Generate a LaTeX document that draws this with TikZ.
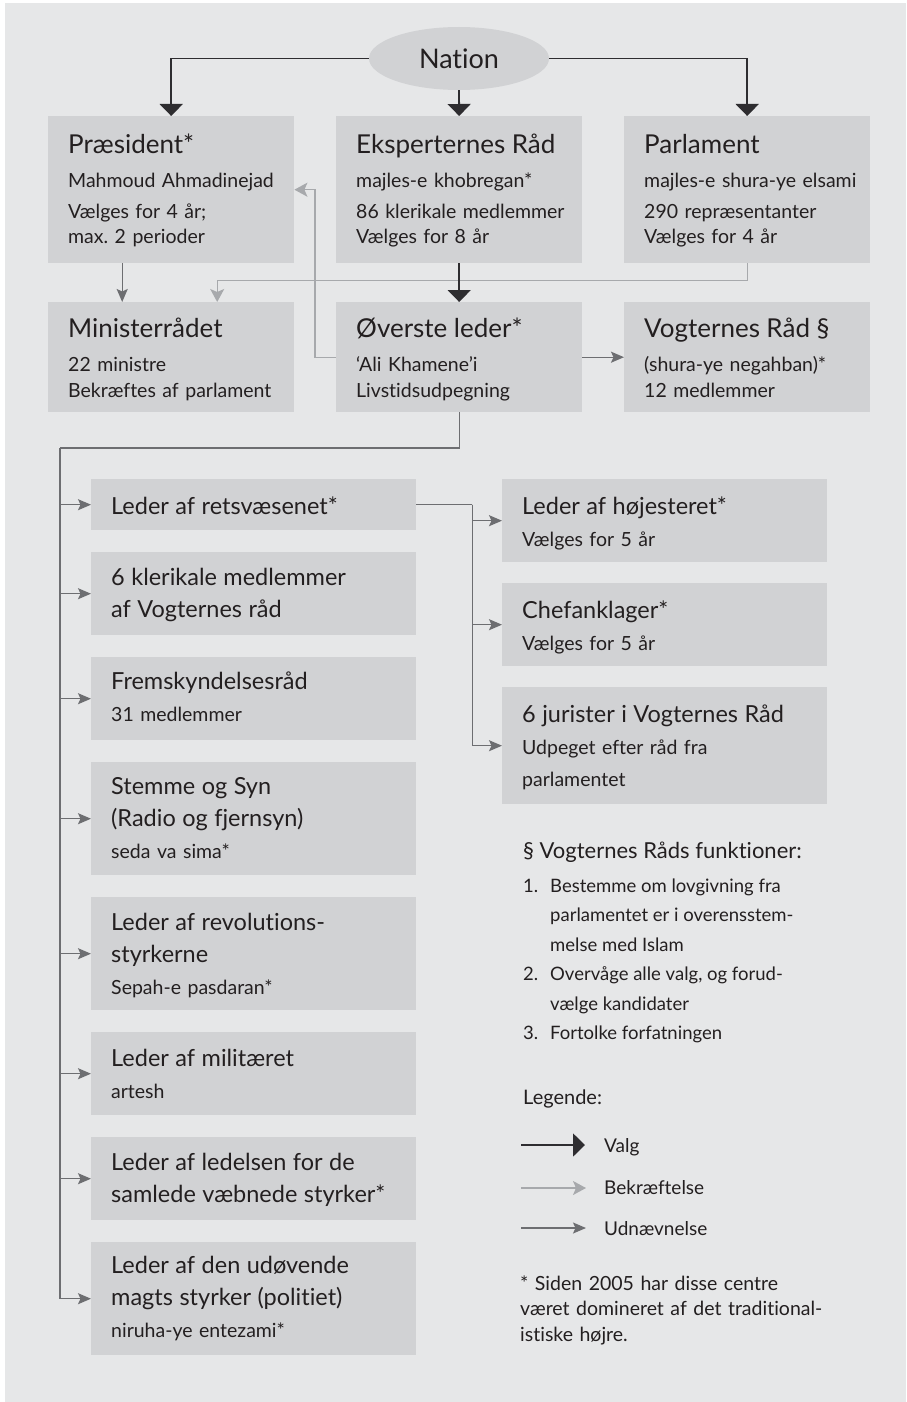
\documentclass[tikz,border=0pt]{standalone}
\usepackage{fontspec}
\setmainfont{Lato}[Ligatures=NoCommon]
\usetikzlibrary{arrows.meta,shapes.geometric}
\definecolor{bggray}{HTML}{E6E7E8}
\definecolor{boxgray}{HTML}{D1D2D4}
\definecolor{ink}{HTML}{231F20}
\definecolor{darkline}{HTML}{2E2D30}
\definecolor{midline}{HTML}{6D6E71}
\definecolor{lightline}{HTML}{A7A9AC}
\tikzset{orgbox/.style={fill=boxgray,anchor=north west,inner sep=0pt,align=left,text=ink,font=\fontsize{19.5}{32}\selectfont},
  elect/.style={draw=darkline,line width=1.8pt,-{Triangle[width=23pt,length=12pt]}},
  confirm/.style={draw=lightline,line width=1.4pt,-{Stealth[width=14pt,length=13pt,inset=3pt]}},
  appoint/.style={draw=midline,line width=1.4pt,-{Stealth[width=11pt,length=13pt,inset=2.5pt]}},
  trunk/.style={draw=midline,line width=1.4pt},
  note/.style={anchor=base west,inner sep=0pt,text=ink}}
\newcommand{\ttl}{\fontsize{26}{25}\selectfont}
\newcommand{\sttl}{\fontsize{23.5}{32}\selectfont}
\newcommand{\placebox}[6]{\node[orgbox,text width=#3pt,text height=#4pt,text depth=#5pt] (#1) at (#2) {\leftskip=20pt #6\par};}

\begin{document}
\begin{tikzpicture}[x=1pt,y=-1pt]
\useasboundingbox (0,0) rectangle (906,1402);
\fill[white] (0,0) rectangle (906,1402);
\fill[bggray] (5,3) rectangle (906,1402);

\node[ellipse,fill=boxgray,minimum width=180pt,minimum height=63pt,inner sep=0pt,text=ink,font=\fontsize{27}{30}\selectfont] (nation) at (459,58.5) {Nation};

\placebox{pres}{48,116}{246}{37}{110}{\fontsize{19.5}{25}\selectfont{\ttl Præsident*}\\[9pt]Mahmoud Ahmadinejad\\[6pt]Vælges for 4 år;\\max.\ 2 perioder}
\placebox{exp}{336,116}{246}{37}{110}{\fontsize{19.5}{25}\selectfont{\ttl Eksperternes Råd}\\[9pt]majles-e khobregan*\\[6pt]86 klerikale medlemmer\\Vælges for 8 år}
\placebox{parl}{624,116}{246}{37}{110}{\fontsize{19.5}{25}\selectfont{\ttl Parlament}\\[9pt]majles-e shura-ye elsami\\[6pt]290 repræsentanter\\Vælges for 4 år}
\placebox{mini}{48,302}{246}{35}{75}{\fontsize{19.5}{26}\selectfont{\ttl Ministerrådet}\\[8pt]22 ministre\\Bekræftes af parlament}
\placebox{lead}{336,302}{246}{35}{75}{\fontsize{19.5}{26}\selectfont{\ttl Øverste leder*}\\[8pt]‘Ali Khamene’i\\Livstidsudpegning}
\placebox{vogt}{624,302}{246}{35}{75}{\fontsize{19.5}{26}\selectfont{\ttl Vogternes Råd §}\\[8pt](shura-ye negahban)*\\12 medlemmer}

\placebox{ret}{91,479}{325}{35}{16}{{\sttl Leder af retsvæsenet*}}
\placebox{kler}{91,552}{325}{33}{50}{{\sttl 6 klerikale medlemmer\\af Vogternes råd}}
\placebox{frem}{91,657}{325}{32}{51}{{\sttl Fremskyndelsesråd}\\31 medlemmer}
\placebox{stem}{91,762}{325}{32}{81}{{\sttl Stemme og Syn\\(Radio og fjernsyn)}\\seda va sima*}
\placebox{rev}{91,897}{325}{33}{80}{{\sttl Leder af revolutions-\\styrkerne}\\Sepah-e pasdaran*}
\placebox{mil}{91,1032}{325}{34}{49}{{\sttl Leder af militæret}\\artesh}
\placebox{led}{91,1137}{325}{33}{50}{{\sttl Leder af ledelsen for de\\samlede væbnede styrker*}}
\placebox{udo}{91,1242}{325}{31}{82}{{\sttl Leder af den udøvende\\magts styrker (politiet)}\\niruha-ye entezami*}
\placebox{hoj}{502,479}{325}{35}{48}{{\sttl Leder af højesteret*}\\Vælges for 5 år}
\placebox{chef}{502,583}{325}{35}{48}{{\sttl Chefanklager*}\\Vælges for 5 år}
\placebox{jur}{502,687}{325}{35}{82}{{\sttl 6 jurister i Vogternes Råd}\\Udpeget efter råd fra\\parlamentet}

\draw[confirm] (parl.south) -- ++(0,17) -| ([xshift=46pt]mini.north);
\draw[confirm] (lead.west) -- ++(-21,0) |- (pres.east);
\draw[appoint] ([xshift=-49pt]pres.south) -- ([xshift=-49pt]mini.north);
\draw[appoint] (lead.east) -- (vogt.west);
\draw[elect] (nation.west) -| (pres.north);
\draw[elect] (nation.east) -| (parl.north);
\draw[elect] (nation.south) -- (exp.north);
\draw[elect] (exp.south) -- (lead.north);

\coordinate (tr) at (60,448);
\draw[trunk] (lead.south) |- (tr);
\foreach \b in {ret,kler,frem,stem,rev,mil,led,udo} \draw[appoint] (tr) |- (\b.west);
\path (ret.east) ++(56,0) coordinate (jx);
\draw[trunk] (ret.east) -- (jx);
\foreach \b in {hoj,chef,jur} \draw[appoint] (jx) |- (\b.west);

\node[note,font=\fontsize{22}{26}\selectfont] (funchead) at (523,858) {§ Vogternes Råds funktioner:};
\node[note,font=\fontsize{18.5}{29.5}\selectfont] (funclist) at (523,892) {\begin{tabular}[t]{@{}p{27pt}@{}l@{}}1.&Bestemme om lovgivning fra\\&parlamentet er i overensstem-\\&melse med Islam\\2.&Overvåge alle valg, og forud-\\&vælge kandidater\\3.&Fortolke forfatningen\end{tabular}};

\node[note,font=\fontsize{20}{24}\selectfont] (legend) at (523,1104) {Legende:};
\coordinate (valgA) at (521,1145); \coordinate (valgB) at (585,1145);
\coordinate (bekA) at (521,1188); \coordinate (bekB) at (586,1188);
\coordinate (udnA) at (521,1228); \coordinate (udnB) at (586,1228);
\draw[elect] (valgA) -- (valgB);
\draw[confirm] (bekA) -- (bekB);
\draw[appoint] (udnA) -- (udnB);
\node[note,font=\fontsize{19}{24}\selectfont] (valg) at (604,1152) {Valg};
\node[note,font=\fontsize{19}{24}\selectfont] (bek) at (604,1194) {Bekræftelse};
\node[note,font=\fontsize{19}{24}\selectfont] (udn) at (604,1235) {Udnævnelse};

\node[note,align=left,text width=380pt,font=\fontsize{19.5}{25.5}\selectfont] (foot) at (520,1290) {* Siden 2005 har disse centre\\været domineret af det traditional-\\istiske højre.};
\end{tikzpicture}
\end{document}
